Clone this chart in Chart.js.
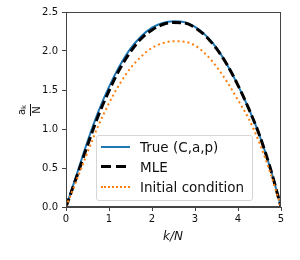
<!DOCTYPE html>
<html><head><meta charset="utf-8">
<script src="https://cdn.jsdelivr.net/npm/chart.js@4/dist/chart.umd.min.js"></script>
<style>
html,body{margin:0;padding:0;background:#fff;}
#wrap{position:relative;width:300px;height:260px;font-family:"DejaVu Sans",sans-serif;}
#legend{position:absolute;left:96px;top:135px;width:157px;height:66px;box-sizing:border-box;border:1px solid #d6d6d6;border-radius:3px;background:rgba(255,255,255,0.85);font-size:13.5px;color:#111;}
.row{position:absolute;left:4px;height:20px;line-height:20px;white-space:nowrap;}
.sw{position:absolute;left:0;top:9px;width:29px;height:0;}
.lab{position:absolute;left:39px;top:0;}
#ylab{position:absolute;left:17px;top:98px;width:24px;height:24px;transform:rotate(-90deg);font-size:10px;color:#111;text-align:center;}
#xlab{position:absolute;left:163px;top:229px;font-size:12px;font-style:italic;color:#111;}
</style></head>
<body><div id="wrap">
<canvas id="c" width="300" height="260"></canvas>
<div id="ylab"><div style="line-height:10px">a<sub style="font-size:7px;vertical-align:-1px">k</sub></div><div style="border-top:1px solid #111;width:12px;margin:1px auto 0"></div><div style="line-height:11px">N</div></div>
<div id="xlab">k/N</div>
<div id="legend">
<div class="row" style="top:1px"><div class="sw" style="border-top:2px solid #1f77b4"></div><span class="lab">True (C,a,p)</span></div>
<div class="row" style="top:21px"><div class="sw" style="top:8px;height:3px;background:repeating-linear-gradient(90deg,#000 0 10px,transparent 10px 15px)"></div><span class="lab">MLE</span></div>
<div class="row" style="top:41px"><div class="sw" style="border-top:2px dotted #ff7f0e"></div><span class="lab">Initial condition</span></div>
</div>
</div>
<script>
const kGrid = [0,0.25,0.5,0.75,1,1.25,1.5,1.75,2,2.25,2.5,2.75,3,3.25,3.5,3.75,4,4.25,4.5,4.75,5];
const trueVals = [0,0.42,0.84,1.22,1.54,1.81,2.03,2.19,2.30,2.36,2.38,2.37,2.31,2.20,2.04,1.82,1.56,1.26,0.92,0.50,0];
const mleVals  = [0,0.39,0.79,1.17,1.49,1.77,1.99,2.16,2.27,2.34,2.365,2.36,2.30,2.19,2.03,1.82,1.56,1.26,0.92,0.50,0];
const initVals = [0,0.35,0.70,1.04,1.33,1.58,1.78,1.93,2.04,2.10,2.125,2.12,2.07,1.96,1.80,1.60,1.37,1.13,0.82,0.44,0];
const xTicks = [0,1,2,3,4,5];
const yTicks = [0,0.5,1,1.5,2,2.5];
const pts = v => kGrid.map((k,i)=>({x:k,y:v[i]}));
const frame = {id:'frame',afterDatasetsDraw(ch){const a=ch.chartArea,c=ch.ctx;c.save();c.strokeStyle='#444';c.lineWidth=1;c.strokeRect(a.left+0.5,a.top+0.5,a.right-a.left-1,a.bottom-a.top-1);c.restore();}};
new Chart(document.getElementById('c'),{
 type:'scatter',
 data:{datasets:[
  {data:pts(trueVals),showLine:true,borderColor:'#1f77b4',borderWidth:2,pointRadius:0,cubicInterpolationMode:'monotone',order:3},
  {data:pts(mleVals),showLine:true,borderColor:'#000',borderWidth:3,borderDash:[9,4],pointRadius:0,cubicInterpolationMode:'monotone',order:2},
  {data:pts(initVals),showLine:true,borderColor:'#ff7f0e',borderWidth:2,borderDash:[2,3],pointRadius:0,cubicInterpolationMode:'monotone',order:1}
 ]},
 options:{responsive:false,animation:false,events:[],
  layout:{padding:{left:0,right:19,top:12,bottom:0}},
  plugins:{legend:{display:false},tooltip:{enabled:false}},
  scales:{
   x:{type:'linear',min:0,max:5,
    afterBuildTicks:s=>{s.ticks=xTicks.map(v=>({value:v}));},
    afterFit:s=>{s.height=53;},
    ticks:{color:'#111',font:{family:'DejaVu Sans',size:10},padding:2,maxRotation:0,callback:v=>String(v)},
    grid:{drawOnChartArea:false,drawTicks:true,tickLength:4,color:'#444'},
    border:{display:true,color:'#444',width:1}},
   y:{type:'linear',min:0,max:2.5,
    afterBuildTicks:s=>{s.ticks=yTicks.map(v=>({value:v}));},
    afterFit:s=>{s.width=66;},
    ticks:{color:'#111',font:{family:'DejaVu Sans',size:10},padding:4,callback:v=>Number(v).toFixed(1)},
    grid:{drawOnChartArea:false,drawTicks:true,tickLength:4,color:'#444'},
    border:{display:true,color:'#444',width:1}}
  }},
 plugins:[frame]
});
</script>
</body></html>
